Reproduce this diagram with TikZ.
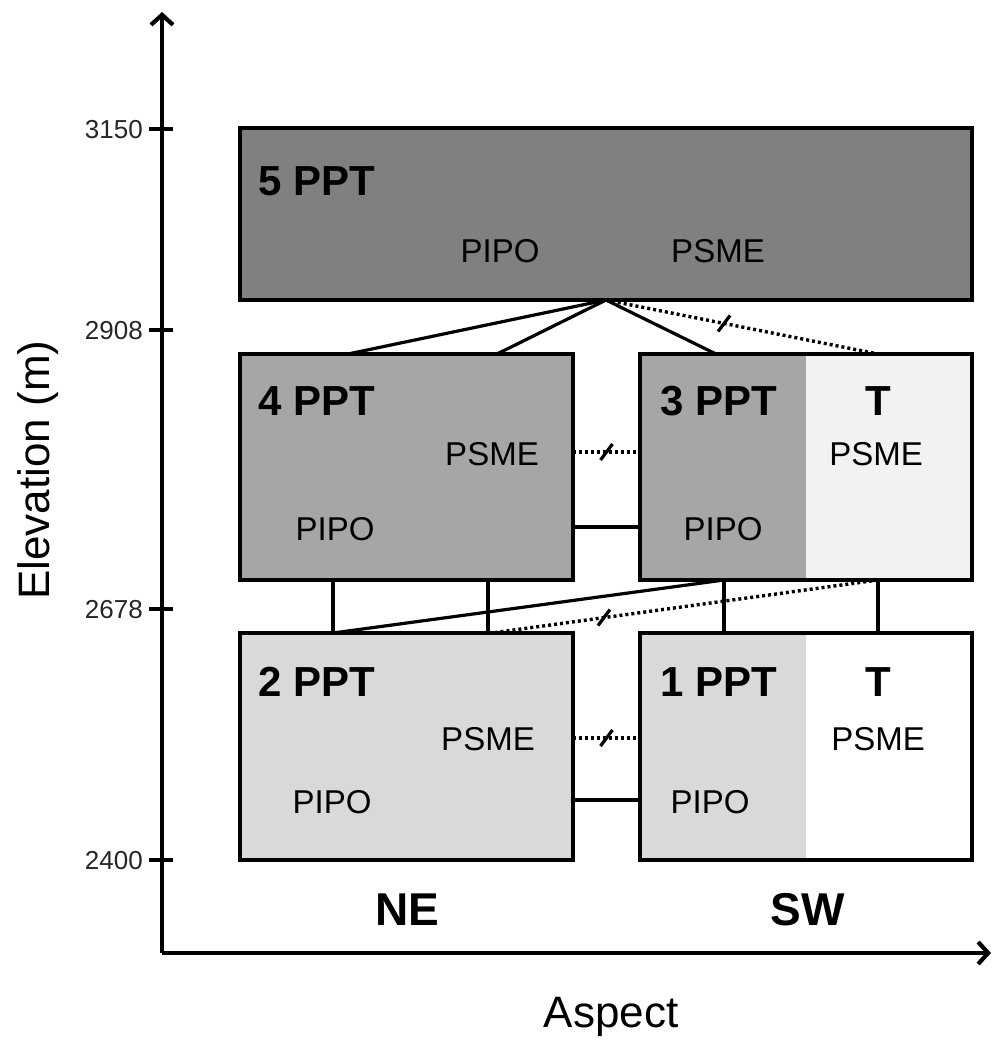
\documentclass[tikz,border=0pt]{standalone}
\usepackage{fontspec}
\setmainfont{Liberation Sans}
\usetikzlibrary{arrows.meta}
\newcommand\myfs[1]{\fontsize{#1}{#1}\selectfont}
\definecolor{gfive}{HTML}{808080}
\definecolor{gfour}{HTML}{A6A6A6}
\definecolor{gtwo}{HTML}{D9D9D9}
\definecolor{glight}{HTML}{F2F2F2}
\begin{document}
\begin{tikzpicture}[x=1pt,y=-1pt,
  box/.style={draw=black,line width=3.4pt,rectangle,inner sep=0,outer sep=0},
  lefthalf/.style={path picture={\fill[#1] (path picture bounding box.south west) rectangle (path picture bounding box.north);}},
  conn/.style={line width=3.2pt},
  dotline/.style={line width=3.4pt,dash pattern=on 3pt off 3pt},
  slash/.style={line width=3.2pt},
  axis/.style={line width=4.2pt,-{Straight Barb[length=10pt,width=22pt]}},
  lab/.style={inner sep=0,font=\myfs{33}},
  blab/.style={inner sep=0,font=\myfs{42}\bfseries},
  tlab/.style={inner sep=0,font=\myfs{26},anchor=base east,text=black!85},
]
\useasboundingbox (0,0) rectangle (995,1041);
% axes
\coordinate (origin) at (162,953);
\coordinate (ytip) at (162,12);
\coordinate (xtip) at (991,953);
\draw[axis] (origin) -- (ytip);
\draw[axis] (origin) -- (xtip);
% ticks
\foreach \y/\t [count=\i] in {129/3150,330/2908,609/2678,860/2400}{
  \coordinate (tk\i) at (149,\y);
  \draw[line width=3.4pt] (tk\i) -- ++(24,0);
  \node[tlab] (tl\i) at (143,\y+9) {\t};
}
\node[inner sep=0,font=\myfs{44},rotate=90,anchor=base] (ylab) at (49,470) {Elevation (m)};
\node[inner sep=0,font=\myfs{44},anchor=base] (xlab) at (611,1027) {Aspect};
\node[inner sep=0,font=\myfs{46}\bfseries,anchor=base] (ne) at (407,925) {NE};
\node[inner sep=0,font=\myfs{46}\bfseries,anchor=base] (sw) at (808,925) {SW};
% boxes
\node[box,fill=gfive,minimum width=732pt,minimum height=172pt] (b5) at (606,214) {};
\node[box,fill=gfour,minimum width=333pt,minimum height=226pt] (b4) at (406.5,467) {};
\node[box,fill=glight,lefthalf=gfour,minimum width=332pt,minimum height=226pt] (b3) at (806,467) {};
\node[box,fill=gtwo,minimum width=333pt,minimum height=227pt] (b2) at (406.5,746.5) {};
\node[box,fill=white,lefthalf=gtwo,minimum width=332pt,minimum height=227pt] (b1) at (806,746.5) {};
% labels
\node[blab,anchor=base west] (t5) at (258,195) {5 PPT};
\node[lab,anchor=base] (p5a) at (500,262) {PIPO};
\node[lab,anchor=base] (p5b) at (718,262) {PSME};
\node[blab,anchor=base west] (t4) at (258,415) {4 PPT};
\node[lab,anchor=base] (p4b) at (492,465) {PSME};
\node[lab,anchor=base] (p4a) at (335,540) {PIPO};
\node[blab,anchor=base west] (t3) at (660,415) {3 PPT};
\node[blab,anchor=base] (t3t) at (878,415) {T};
\node[lab,anchor=base] (p3b) at (876,465) {PSME};
\node[lab,anchor=base] (p3a) at (723,540) {PIPO};
\node[blab,anchor=base west] (t2) at (258,696) {2 PPT};
\node[lab,anchor=base] (p2b) at (488,750) {PSME};
\node[lab,anchor=base] (p2a) at (332,813) {PIPO};
\node[blab,anchor=base west] (t1) at (660,696) {1 PPT};
\node[blab,anchor=base] (t1t) at (878,696) {T};
\node[lab,anchor=base] (p1b) at (878,750) {PSME};
\node[lab,anchor=base] (p1a) at (710,813) {PIPO};
% connectors from 5
\draw[conn] (b5.south) -- ([xshift=-58.5pt]b4.north);
\draw[conn] (b5.south) -- ([xshift=90.5pt]b4.north);
\draw[conn] (b5.south) -- ([xshift=-90pt]b3.north);
\draw[dotline] (b5.south) -- coordinate[pos=0.434] (s1) ([xshift=72pt]b3.north);
% 4 - 3
\draw[dotline] ([yshift=15pt]b4.east) -- coordinate[pos=0.5] (s2) ([yshift=15pt]b3.west);
\draw[conn] ([yshift=-60pt]b4.east) -- ([yshift=-60pt]b3.west);
% 4 - 2
\draw[conn] ([xshift=-73.5pt]b4.south) -- ([xshift=-73.5pt]b2.north);
\draw[conn] ([xshift=81.5pt]b4.south) -- ([xshift=81.5pt]b2.north);
% 3 - 2, 3 - 1
\draw[conn] ([xshift=-82pt]b3.south) -- ([xshift=-73.5pt]b2.north);
\draw[conn] ([xshift=-82pt]b3.south) -- ([xshift=-82pt]b1.north);
\draw[conn] ([xshift=72pt]b3.south) -- ([xshift=72pt]b1.north);
\draw[dotline] ([xshift=72pt]b3.south) -- coordinate[pos=0.71] (s3) ([xshift=85.5pt]b2.north);
% 2 - 1
\draw[dotline] ([yshift=8.5pt]b2.east) -- coordinate[pos=0.5] (s4) ([yshift=8.5pt]b1.west);
\draw[conn] ([yshift=-53.5pt]b2.east) -- ([yshift=-53.5pt]b1.west);
% slashes
\foreach \s in {s1,s2,s3,s4}{
  \draw[slash] ([shift={(-6pt,-8pt)}]\s) -- ([shift={(6pt,8pt)}]\s);
}
\end{tikzpicture}
\end{document}
